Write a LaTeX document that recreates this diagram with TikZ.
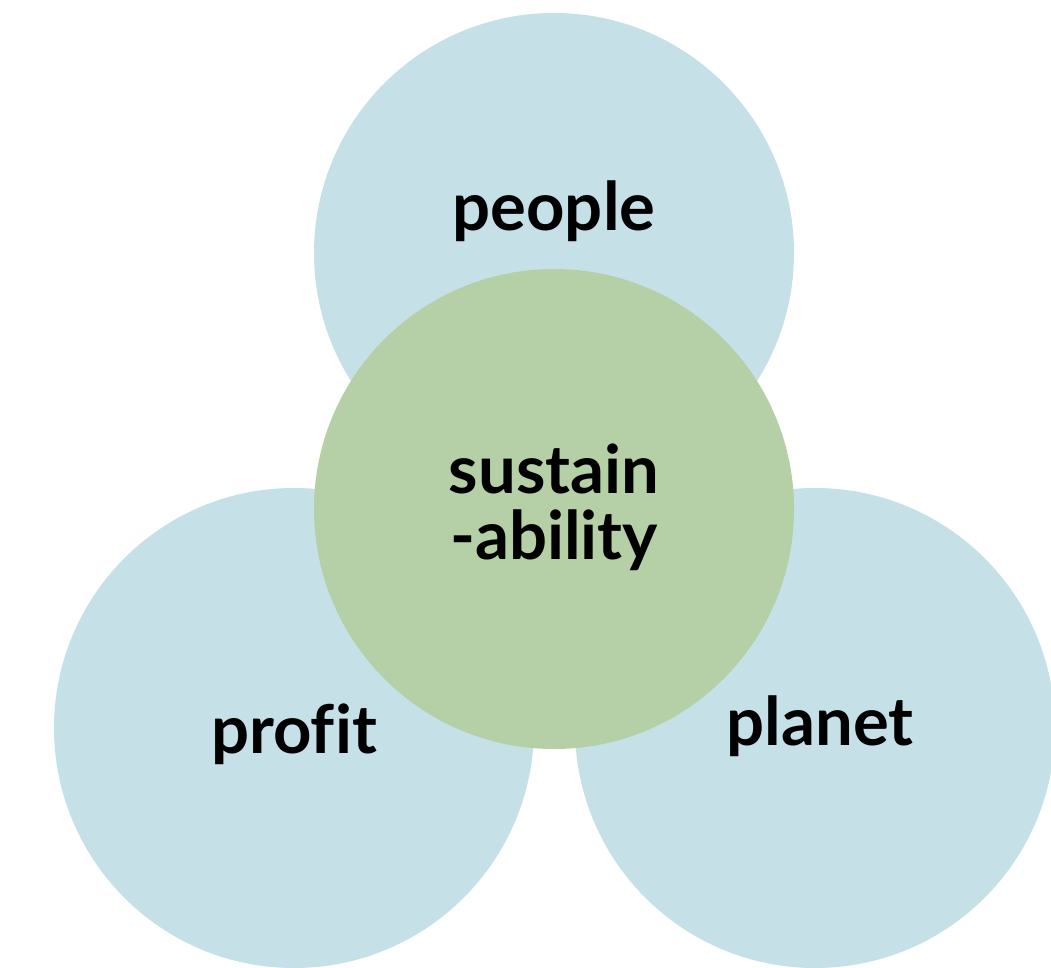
\documentclass[tikz,border=0pt]{standalone}
\usepackage{fontspec}
\setmainfont{Lato}[Ligatures=NoCommon]
\definecolor{bluec}{HTML}{C6E0E7}
\definecolor{greenc}{HTML}{B5CFA7}
\begin{document}
\begin{tikzpicture}[x=1pt,y=-1pt,
  blob/.style={circle,minimum size=480pt,inner sep=0pt},
  lbl/.style={font=\fontsize{67}{64}\selectfont\bfseries,anchor=base,inner sep=0pt}]
\useasboundingbox (0,0) rectangle (1051,968);
\begin{scope}
\clip (0,0) rectangle (1051,968);
\node[blob,fill=bluec] (people) at (554,253) {};
\node[blob,fill=bluec] (profit) at (294,728) {};
\node[blob,fill=bluec] (planet) at (815,728) {};
\node[blob,fill=greenc] (sust) at (554,509) {};
\end{scope}
\node[lbl] (tpeople) at (554,231) {people};
\node[lbl] (tprofit) at (294,753) {profit};
\node[lbl] (tplanet) at (820,745) {planet};
\node[lbl] (tsust) at (554,493) {sustain};
\node[lbl] (tsust2) at (554,559) {-ability};
\end{tikzpicture}
\end{document}
